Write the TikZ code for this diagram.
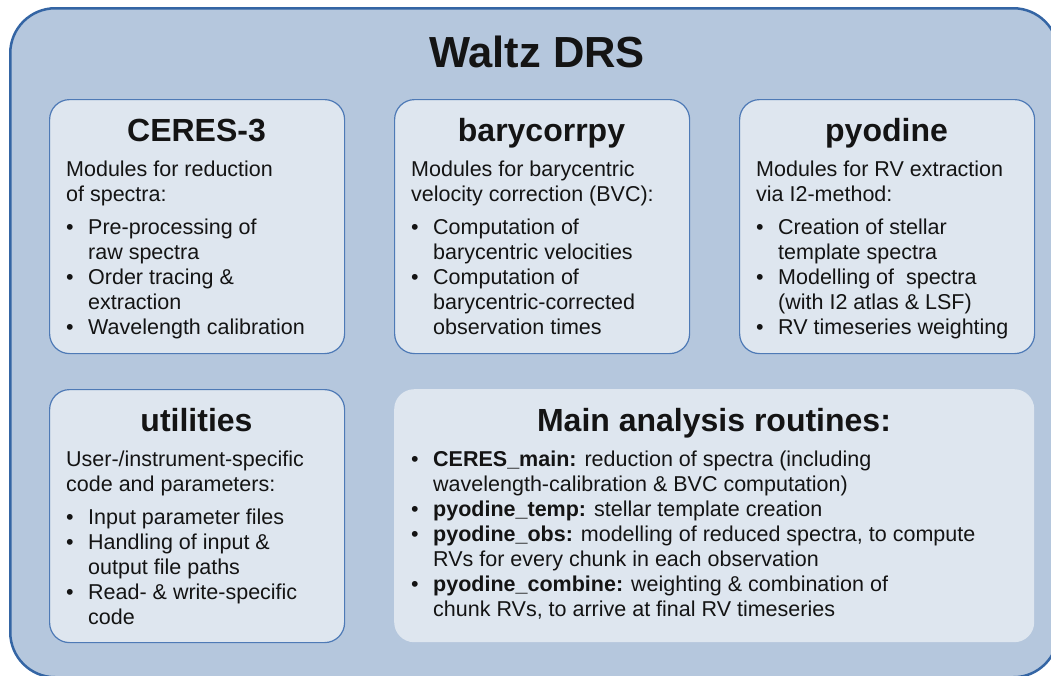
\documentclass[tikz,border=0pt]{standalone}
\usepackage{fontspec}
\setmainfont{Liberation Sans}
\definecolor{outerfill}{RGB}{181,199,221}
\definecolor{outerline}{RGB}{52,101,164}
\definecolor{innerfill}{RGB}{222,230,239}
\definecolor{innerline}{RGB}{78,122,182}
\definecolor{txt}{RGB}{20,20,20}
\newcommand\bodyfnt{\fontsize{21.5}{25}\selectfont}
\newcommand\bul{\makebox[22pt][l]{\textbullet}}
\newcommand\ind{\hspace*{22pt}}
\newcommand\bodytext[1]{\parbox[t]{600pt}{\bodyfnt\raggedright #1}}
\tikzset{
  outerbox/.style={draw=outerline, line width=2.5pt, fill=outerfill, rounded corners=45pt, anchor=north west, inner sep=0pt},
  modbox/.style={draw=innerline, line width=1.2pt, fill=innerfill, rounded corners=20pt, anchor=north west, inner sep=0pt},
  plainbox/.style={fill=innerfill, rounded corners=20pt, anchor=north west, inner sep=0pt},
  boxtitle/.style={anchor=base, inner sep=0pt, text=txt, font=\fontsize{32}{38}\selectfont\bfseries},
  maintitle/.style={anchor=base, inner sep=0pt, text=txt, font=\fontsize{43.5}{50}\selectfont\bfseries},
  body/.style={anchor=base west, inner sep=0pt, text=txt},
}
\begin{document}
\begin{tikzpicture}[x=1pt, y=-1pt]
\useasboundingbox (0,0) rectangle (1051,675);
\clip (0,0) rectangle (1051,675);
\node[outerbox, minimum width=1048pt, minimum height=669pt] (outer) at (9,7) {};
\node[maintitle] (waltz) at (537,67) {Waltz DRS};

% CERES-3
\node[modbox, minimum width=295pt, minimum height=254pt] (ceresbox) at (49,99) {};
\node[boxtitle] (cerestitle) at (196.5,141.5) {CERES-3};
\node[body] (cerestext) at (66,176.7) {\bodytext{Modules for reduction\\
of spectra:\\[8pt]
\bul Pre-processing of\\
\ind raw spectra\\
\bul Order tracing \&\\
\ind extraction\\
\bul Wavelength calibration}};

% barycorrpy
\node[modbox, minimum width=295pt, minimum height=254pt] (barybox) at (394,99) {};
\node[boxtitle] (barytitle) at (541.5,141.5) {barycorrpy};
\node[body] (barytext) at (411,176.7) {\bodytext{Modules for barycentric\\
velocity correction (BVC):\\[8pt]
\bul Computation of\\
\ind barycentric velocities\\
\bul Computation of\\
\ind barycentric-corrected\\
\ind observation times}};

% pyodine
\node[modbox, minimum width=295pt, minimum height=254pt] (pyobox) at (739,99) {};
\node[boxtitle] (pyotitle) at (886.5,141.5) {pyodine};
\node[body] (pyotext) at (756,176.7) {\bodytext{Modules for RV extraction\\
via I2-method:\\[8pt]
\bul Creation of stellar\\
\ind template spectra\\
\bul Modelling of~ spectra\\
\ind (with I2 atlas \& LSF)\\
\bul RV timeseries weighting}};

% utilities
\node[modbox, minimum width=295pt, minimum height=253pt] (utilbox) at (49,389) {};
\node[boxtitle] (utiltitle) at (196.5,431) {utilities};
\node[body] (utiltext) at (66,466.5) {\bodytext{User-/instrument-specific\\
code and parameters:\\[8pt]
\bul Input parameter files\\
\bul Handling of input \&\\
\ind output file paths\\
\bul Read- \& write-specific\\
\ind code}};

% main analysis routines
\node[plainbox, minimum width=640pt, minimum height=253pt] (mainbox) at (394,389) {};
\node[boxtitle] (maintitle) at (714,431) {Main analysis routines:};
\node[body] (maintext) at (411,466.5) {\bodytext{\bul\textbf{CERES\_main:} reduction of spectra (including\\
\ind wavelength-calibration \& BVC computation)\\
\bul\textbf{pyodine\_temp:} stellar template creation\\
\bul\textbf{pyodine\_obs:} modelling of reduced spectra, to compute\\
\ind RVs for every chunk in each observation\\
\bul\textbf{pyodine\_combine:} weighting \& combination of\\
\ind chunk RVs, to arrive at final RV timeseries}};
\end{tikzpicture}
\end{document}
